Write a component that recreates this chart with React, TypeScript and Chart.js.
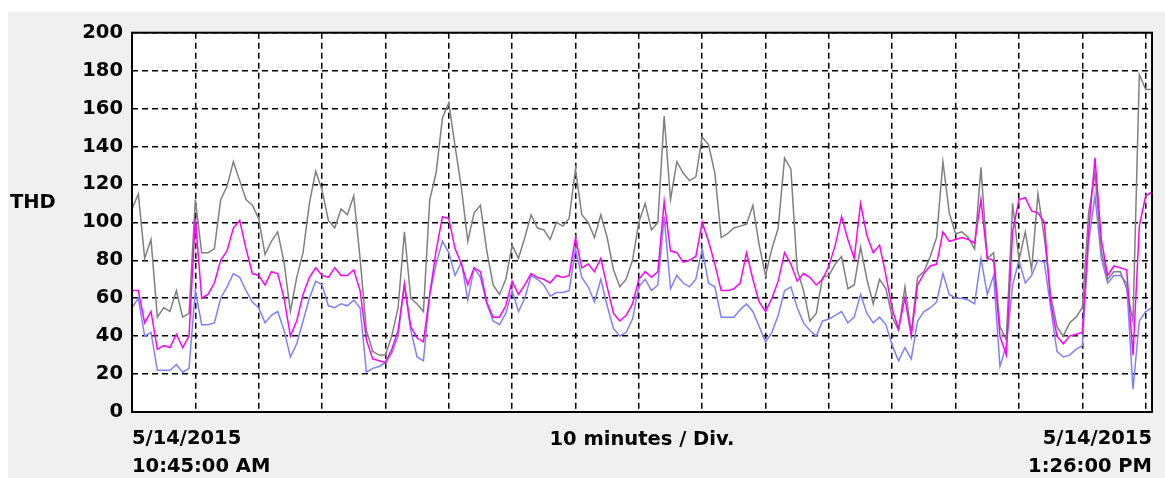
import React, { useEffect, useRef } from 'react';
import { Chart, registerables } from 'chart.js';

Chart.register(...registerables);

// THD samples, one per minute from 10:45:00 AM (minute 0) to 1:26:00 PM (minute 161)
const grayValues = [
  107, 115, 81, 91, 50, 55, 53, 64, 50, 52,
  112, 84, 84, 86, 112, 119, 132, 122, 112, 109,
  102, 83, 90, 95, 79, 53, 71, 84, 110, 127,
  117, 101, 97, 107, 104, 114, 81, 43, 32, 30,
  30, 40, 55, 95, 60, 57, 53, 112, 126, 155,
  163, 140, 118, 90, 105, 109, 85, 67, 62, 70,
  88, 81, 92, 104, 97, 96, 91, 100, 98, 102,
  128, 104, 100, 92, 104, 92, 75, 66, 70, 80,
  100, 110, 96, 100, 156, 112, 132, 126, 122, 124,
  145, 141, 126, 92, 94, 97, 98, 99, 109, 88,
  72, 86, 97, 134, 128, 75, 64, 48, 52, 71,
  72, 78, 82, 65, 67, 87, 70, 57, 70, 65,
  50, 43, 66, 42, 71, 74, 82, 92, 132, 105,
  94, 95, 92, 86, 129, 81, 84, 45, 38, 110,
  80, 95, 75, 115, 92, 62, 45, 40, 47, 50,
  55, 105, 126, 85, 70, 74, 74, 65, 48, 178,
  170, 170,
];

const magentaValues = [
  64, 64, 47, 53, 33, 35, 34, 41, 34, 40,
  102, 60, 62, 68, 80, 85, 97, 101, 86, 73,
  72, 67, 74, 73, 60, 40, 48, 62, 71, 76,
  72, 71, 76, 72, 72, 75, 64, 38, 28, 27,
  26, 33, 43, 67, 45, 39, 37, 62, 85, 103,
  102, 86, 78, 67, 76, 74, 58, 50, 50, 56,
  69, 62, 67, 73, 71, 70, 68, 72, 71, 72,
  92, 76, 78, 74, 81, 66, 52, 48, 51, 57,
  70, 74, 71, 74, 111, 85, 84, 79, 80, 82,
  100, 90, 78, 64, 64, 65, 68, 84, 70, 58,
  53, 60, 69, 84, 78, 69, 73, 71, 67, 70,
  77, 88, 103, 91, 81, 110, 93, 84, 88, 72,
  54, 44, 60, 40, 67, 73, 77, 78, 95, 90,
  91, 92, 91, 89, 112, 81, 80, 40, 30, 95,
  112, 113, 106, 105, 100, 58, 40, 36, 40, 41,
  42, 95, 134, 91, 72, 77, 76, 75, 30, 98,
  114, 116,
];

const blueValues = [
  55, 60, 40, 42, 22, 22, 22, 25, 21, 23,
  64, 46, 46, 47, 60, 66, 73, 71, 64, 58,
  55, 47, 51, 53, 43, 29, 36, 48, 60, 69,
  67, 56, 55, 57, 56, 59, 55, 21, 23, 24,
  26, 31, 40, 68, 43, 29, 27, 62, 78, 90,
  84, 72, 79, 59, 76, 71, 57, 48, 46, 52,
  64, 53, 60, 72, 70, 67, 61, 63, 63, 64,
  86, 71, 66, 58, 70, 56, 44, 40, 42, 49,
  66, 70, 64, 67, 103, 65, 72, 68, 66, 70,
  86, 68, 66, 50, 50, 50, 54, 57, 53, 45,
  37, 42, 51, 64, 66, 55, 47, 43, 40, 48,
  49, 51, 53, 47, 50, 62, 52, 47, 50, 46,
  35, 27, 34, 28, 48, 53, 55, 58, 73, 62,
  60, 60, 59, 57, 81, 62, 72, 24, 35, 67,
  80, 68, 72, 80, 79, 55, 32, 29, 30, 33,
  35, 90, 114, 81, 68, 72, 72, 68, 12, 48,
  53, 55,
];

const xGridMinutes = [0, 10, 20, 30, 40, 50, 60, 70, 80, 90, 100, 110, 120, 130, 140, 150, 160, 161];
const xStartLabel = ['5/14/2015', '10:45:00 AM'];
const xEndLabel = ['5/14/2015', '1:26:00 PM'];
const xDivisionLabel = '10 minutes / Div.';
const yAxisLabel = 'THD';
const yMin = 0;
const yMax = 200;
const yStep = 20;
const xEnd = 161;

const FONT = '"DejaVu Sans", sans-serif';

const toPoints = (values: number[]) => values.map((v, i) => ({ x: i, y: v }));

const framePlugin = {
  id: 'frame',
  beforeDraw(chart: any) {
    const { ctx, chartArea } = chart;
    const { left, top, right, bottom } = chartArea;
    ctx.save();
    ctx.fillStyle = '#f0f0f0';
    ctx.fillRect(0, 0, chart.width, chart.height);
    ctx.fillStyle = '#ffffff';
    ctx.fillRect(left, top, right - left, bottom - top);
    ctx.restore();
  },
  afterDraw(chart: any) {
    const { ctx, chartArea } = chart;
    const { left, top, right, bottom } = chartArea;
    ctx.save();
    ctx.strokeStyle = '#000000';
    ctx.lineWidth = 2;
    ctx.strokeRect(left, top, right - left, bottom - top);
    ctx.fillStyle = '#000000';
    ctx.font = `bold 19.5px ${FONT}`;
    ctx.textBaseline = 'middle';
    ctx.textAlign = 'left';
    ctx.fillText(yAxisLabel, 2, 191);
    ctx.textAlign = 'center';
    ctx.fillText(xDivisionLabel, (left + right) / 2, 428);
    ctx.restore();
  },
};

export default function App() {
  const canvasRef = useRef<HTMLCanvasElement | null>(null);

  useEffect(() => {
    if (!canvasRef.current) return;
    const chart = new Chart(canvasRef.current, {
      type: 'line',
      data: {
        datasets: [
          {
            label: 'Magenta',
            data: toPoints(magentaValues),
            borderColor: '#ff00ff',
            borderWidth: 1.5,
            pointRadius: 0,
            tension: 0,
            fill: false,
          },
          {
            label: 'Gray',
            data: toPoints(grayValues),
            borderColor: '#808080',
            borderWidth: 1.5,
            pointRadius: 0,
            tension: 0,
            fill: false,
          },
          {
            label: 'Blue',
            data: toPoints(blueValues),
            borderColor: '#8080ff',
            borderWidth: 1.5,
            pointRadius: 0,
            tension: 0,
            fill: false,
          },
        ],
      },
      options: {
        animation: false,
        responsive: false,
        maintainAspectRatio: false,
        events: [],
        layout: { padding: { top: 12, right: 5, left: 0, bottom: 0 } },
        plugins: {
          legend: { display: false },
          tooltip: { enabled: false },
          title: { display: false },
        },
        scales: {
          x: {
            type: 'linear',
            min: 0,
            max: xEnd,
            afterBuildTicks: (scale: any) => {
              scale.ticks = xGridMinutes.map((v) => ({ value: v }));
            },
            afterFit: (scale: any) => {
              scale.height = 66;
            },
            grid: {
              color: '#000000',
              lineWidth: 1.5,
              drawTicks: false,
            },
            border: { display: false, dash: [6, 4] },
            ticks: {
              autoSkip: false,
              maxRotation: 0,
              minRotation: 0,
              align: 'inner',
              padding: 13,
              color: '#000000',
              font: { family: FONT, size: 19.5, weight: 'bold', lineHeight: 1.45 },
              callback: (value: any) => {
                if (value === 0) return xStartLabel;
                if (value === xEnd) return xEndLabel;
                return '';
              },
            },
          },
          y: {
            min: yMin,
            max: yMax,
            afterFit: (scale: any) => {
              scale.width = 124;
            },
            grid: {
              color: '#000000',
              lineWidth: 1.5,
              drawTicks: false,
            },
            border: { display: false, dash: [6, 4] },
            ticks: {
              stepSize: yStep,
              padding: 9,
              color: '#000000',
              font: { family: FONT, size: 19.5, weight: 'bold' },
            },
          },
        },
      },
      plugins: [framePlugin],
    } as any);
    return () => chart.destroy();
  }, []);

  return (
    <div style={{ position: 'absolute', left: 8, top: 12, width: 1157, height: 466, background: '#f0f0f0' }}>
      <canvas ref={canvasRef} width={1157} height={466} style={{ display: 'block' }} />
    </div>
  );
}
